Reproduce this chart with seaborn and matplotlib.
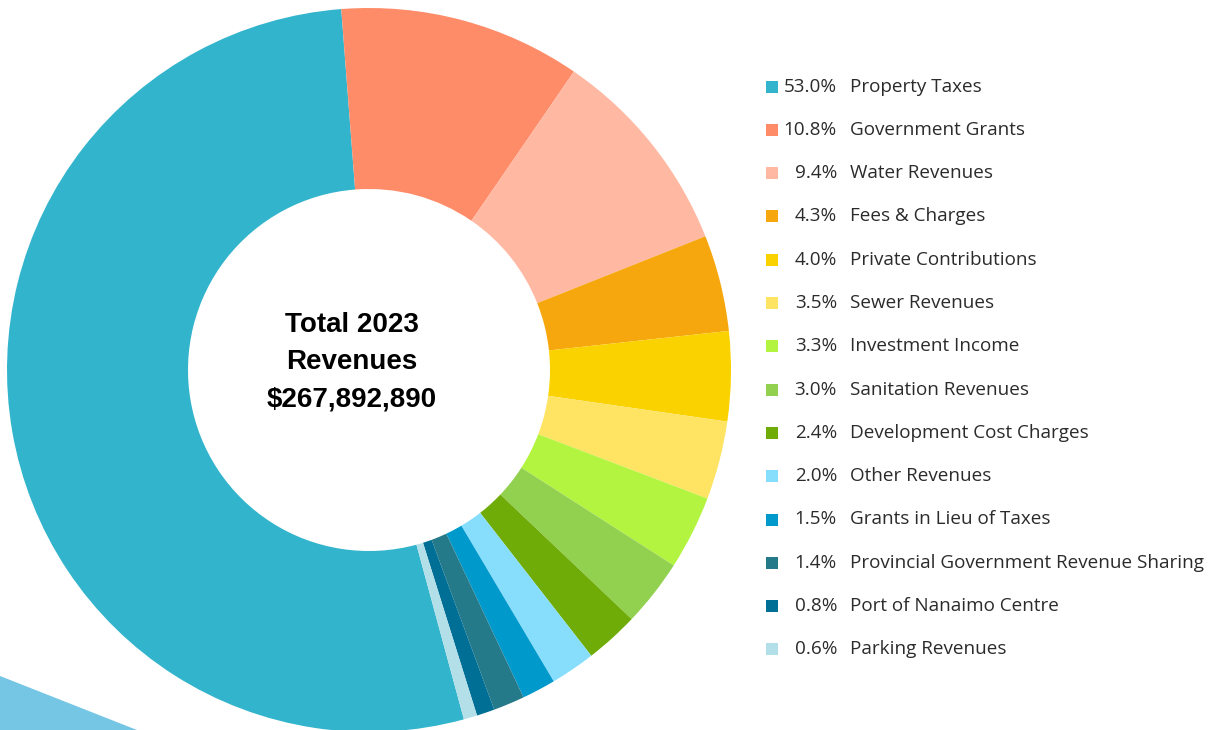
import matplotlib
matplotlib.use("Agg")
import matplotlib.pyplot as plt
import seaborn as sns

categories = ["Property Taxes", "Government Grants", "Water Revenues", "Fees & Charges",
              "Private Contributions", "Sewer Revenues", "Investment Income",
              "Sanitation Revenues", "Development Cost Charges", "Other Revenues",
              "Grants in Lieu of Taxes", "Provincial Government Revenue Sharing",
              "Port of Nanaimo Centre", "Parking Revenues"]
shares = [53.0, 10.8, 9.4, 4.3, 4.0, 3.5, 3.3, 3.0, 2.4, 2.0, 1.5, 1.4, 0.8, 0.6]
colors = ["#32B4CC", "#FF8C69", "#FFB9A3", "#F7A70E", "#F9D200", "#FFE363", "#B3F440",
          "#92D050", "#6FAC08", "#87DEFC", "#0099CC", "#257A89", "#006F96", "#B3DFE8"]
center_text = "Total 2023\nRevenues\n$267,892,890"

sns.set_theme(style="white")
plt.rcParams["font.family"] = ["Open Sans", "DejaVu Sans"]

W, H = 1220, 730
fig = plt.figure(figsize=(W / 100, H / 100), dpi=100)
fig.patch.set_facecolor("white")

# decorative band in the lower left corner
band = plt.Polygon([(0, 1 - 676 / H), (137 / W, 0), (0, 0)], closed=True,
                   transform=fig.transFigure, facecolor="#75C6E4", edgecolor="none")
fig.add_artist(band)

# donut
cx, cy, r = 369, 370, 362
ax = fig.add_axes([(cx - r) / W, (H - cy - r) / H, 2 * r / W, 2 * r / H])
ax.pie(shares, colors=sns.color_palette(colors), startangle=285.2, counterclock=False,
       radius=1, wedgeprops=dict(width=0.5, edgecolor="none", linewidth=0))
ax.set_xlim(-1, 1)
ax.set_ylim(-1, 1)
ax.set_aspect("equal")
ax.axis("off")

fig.text(352 / W, 1 - 362 / H, center_text, ha="center", va="center",
         fontsize=20, fontweight="bold", color="black", linespacing=1.55,
         family=["Liberation Sans", "DejaVu Sans"])

# legend
lax = fig.add_axes([0, 0, 1, 1])
lax.set_xlim(0, W)
lax.set_ylim(H, 0)
lax.axis("off")
row0, step = 86.5, 43.3
for i, (name, val, c) in enumerate(zip(categories, shares, colors)):
    y = row0 + i * step
    lax.scatter([771.5], [y], marker="s", s=78, color=c, linewidths=0)
    lax.text(837, y, f"{val:.1f}%", ha="right", va="center", fontsize=13.6, color="#2B2B2B")
    lax.text(850, y, name, ha="left", va="center", fontsize=13.6, color="#2B2B2B")

fig.savefig("out.png", dpi=100)
